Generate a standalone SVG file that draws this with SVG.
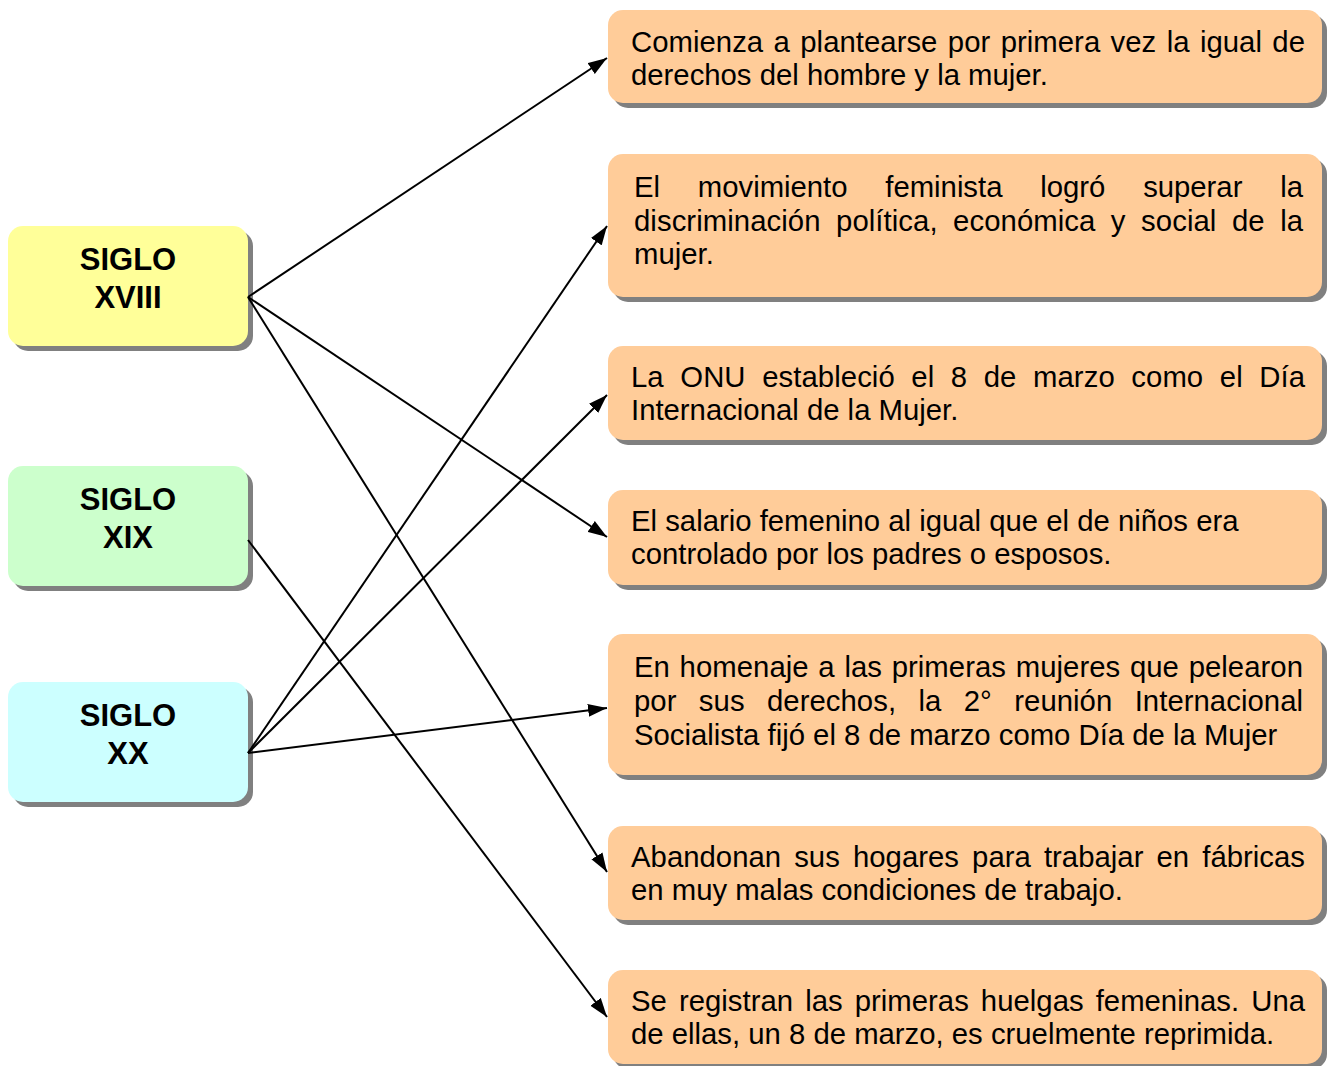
<svg xmlns="http://www.w3.org/2000/svg" width="1327" height="1066" viewBox="0 0 1327 1066">
<style>
.sh{fill:#808080}
.y{fill:#FFFF99}
.g{fill:#CCFFCC}
.c{fill:#CCFFFF}
.p{fill:#FFCC99}
.t{font-family:"Liberation Sans",Arial,sans-serif;font-size:29.3px;fill:#000}
.b{font-family:"Liberation Sans",Arial,sans-serif;font-size:31px;font-weight:bold;fill:#000;text-anchor:middle}
.ln{stroke:#000;stroke-width:2;fill:none;marker-end:url(#ah)}
</style>
<defs>
<marker id="ah" markerUnits="userSpaceOnUse" markerWidth="20" markerHeight="14" refX="19" refY="7" orient="auto" viewBox="0 0 20 14">
<path d="M0,0.5 L19,7 L0,13.5 z" fill="#000"/>
</marker>
</defs>
<rect width="1327" height="1066" fill="#fff"/>
<g id="n-xviii">
<rect class="sh" x="13" y="231" width="240" height="120" rx="15"/>
<rect class="y" x="8" y="226" width="240" height="120" rx="15"/>
<text class="b" x="128" y="270">SIGLO</text>
<text class="b" x="128" y="308">XVIII</text>
</g>
<g id="n-xix">
<rect class="sh" x="13" y="471" width="240" height="120" rx="15"/>
<rect class="g" x="8" y="466" width="240" height="120" rx="15"/>
<text class="b" x="128" y="510">SIGLO</text>
<text class="b" x="128" y="548">XIX</text>
</g>
<g id="n-xx">
<rect class="sh" x="13" y="687" width="240" height="120" rx="15"/>
<rect class="c" x="8" y="682" width="240" height="120" rx="15"/>
<text class="b" x="128" y="726">SIGLO</text>
<text class="b" x="128" y="764">XX</text>
</g>
<g id="r1">
<rect class="sh" x="613" y="15" width="714" height="93" rx="15"/>
<rect class="p" x="608" y="10" width="714" height="93" rx="15"/>
<text class="t" x="631" y="52" textLength="674" lengthAdjust="spacing" style="word-spacing:2.2px">Comienza a plantearse por primera vez la igual de</text>
<text class="t" x="631" y="85">derechos del hombre y la mujer.</text>
</g>
<g id="r2">
<rect class="sh" x="613" y="159" width="714" height="143" rx="15"/>
<rect class="p" x="608" y="154" width="714" height="143" rx="15"/>
<text class="t" x="634" y="197" textLength="669" lengthAdjust="spacing" style="word-spacing:29.7px">El movimiento feminista logró superar la</text>
<text class="t" x="634" y="231" textLength="669" lengthAdjust="spacing" style="word-spacing:7.3px">discriminación política, económica y social de la</text>
<text class="t" x="634" y="264">mujer.</text>
</g>
<g id="r3">
<rect class="sh" x="613" y="351" width="714" height="94" rx="15"/>
<rect class="p" x="608" y="346" width="714" height="94" rx="15"/>
<text class="t" x="631" y="387" textLength="674" lengthAdjust="spacing" style="word-spacing:8.3px">La ONU estableció el 8 de marzo como el Día</text>
<text class="t" x="631" y="420">Internacional de la Mujer.</text>
</g>
<g id="r4">
<rect class="sh" x="613" y="495" width="714" height="95" rx="15"/>
<rect class="p" x="608" y="490" width="714" height="95" rx="15"/>
<text class="t" x="631" y="531">El salario femenino al igual que el de niños era</text>
<text class="t" x="631" y="564">controlado por los padres o esposos.</text>
</g>
<g id="r5">
<rect class="sh" x="613" y="639" width="714" height="141" rx="15"/>
<rect class="p" x="608" y="634" width="714" height="141" rx="15"/>
<text class="t" x="634" y="677" textLength="669" lengthAdjust="spacing" style="word-spacing:1.5px">En homenaje a las primeras mujeres que pelearon</text>
<text class="t" x="634" y="711" textLength="669" lengthAdjust="spacing" style="word-spacing:14.2px">por sus derechos, la 2° reunión Internacional</text>
<text class="t" x="634" y="745">Socialista fijó el 8 de marzo como Día de la Mujer</text>
</g>
<g id="r6">
<rect class="sh" x="613" y="831" width="714" height="94" rx="15"/>
<rect class="p" x="608" y="826" width="714" height="94" rx="15"/>
<text class="t" x="631" y="867" textLength="674" lengthAdjust="spacing" style="word-spacing:4.9px">Abandonan sus hogares para trabajar en fábricas</text>
<text class="t" x="631" y="900">en muy malas condiciones de trabajo.</text>
</g>
<g id="r7">
<rect class="sh" x="613" y="975" width="714" height="94" rx="15"/>
<rect class="p" x="608" y="970" width="714" height="94" rx="15"/>
<text class="t" x="631" y="1011" textLength="674" lengthAdjust="spacing" style="word-spacing:3.9px">Se registran las primeras huelgas femeninas. Una</text>
<text class="t" x="631" y="1044">de ellas, un 8 de marzo, es cruelmente reprimida.</text>
</g>
<g id="connectors">
<line class="ln" x1="248" y1="297" x2="607" y2="58"/>
<line class="ln" x1="248" y1="297" x2="607" y2="537"/>
<line class="ln" x1="248" y1="297" x2="607" y2="872"/>
<line class="ln" x1="248" y1="540" x2="607" y2="1017"/>
<line class="ln" x1="248" y1="753" x2="607" y2="226"/>
<line class="ln" x1="248" y1="753" x2="607" y2="395"/>
<line class="ln" x1="248" y1="753" x2="607" y2="708"/>
</g>
</svg>
